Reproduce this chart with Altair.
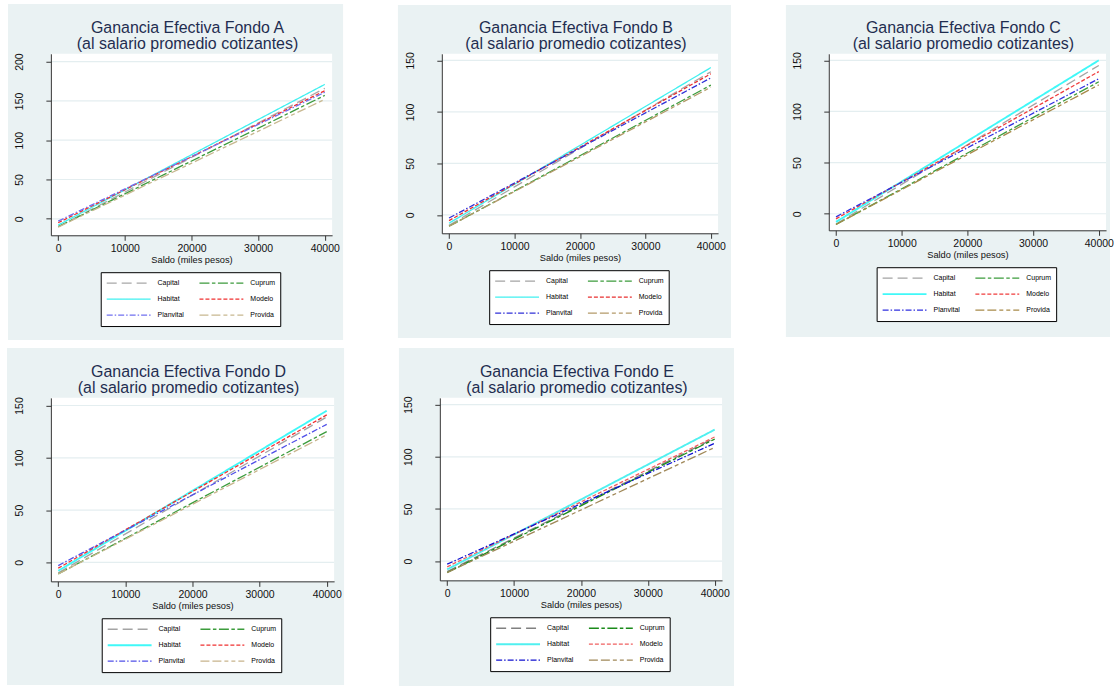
import altair as alt
import pandas as pd

FONT = "Liberation Sans"
BG = "#EAF2F3"
GRID = "#E4EEF0"
TITLE_COLOR = "#1f2d50"

afps = ["Capital", "Cuprum", "Habitat", "Modelo", "Planvital", "Provida"]
# legend fills column by column: this order shows rows Capital/Cuprum, Habitat/Modelo, Planvital/Provida
legend_order = ["Capital", "Habitat", "Planvital", "Cuprum", "Modelo", "Provida"]
saldo = [0, 40000]
fondos = ["A", "B", "C", "D", "E"]
titles = ["Ganancia Efectiva Fondo " + f for f in fondos]
subtitle = "(al salario promedio cotizantes)"
x_title = "Saldo (miles pesos)"

# ganancia at saldo = 0 and at saldo = 40000, per AFP (order of afps)
start_A = [-10, -10, -8, -5, -3, -10.5]
end_A = [166, 157, 171, 163, 161, 152]
start_B = [-10, -11, -8, -5.5, -3, -11]
end_B = [139, 126, 143, 137, 133, 124]
start_C = [-10, -10.5, -8, -5, -3, -10.5]
end_C = [145, 129, 150, 139, 132, 126]
start_D = [-10, -11, -8, -5.5, -3, -11]
end_D = [139, 125, 145, 141, 132, 122]
start_E = [-10, -11, -8, -5.5, -3, -11]
end_E = [118, 117, 126, 119, 113, 109]

y_ticks_A = [0, 50, 100, 150, 200]
y_ticks = [0, 50, 100, 150]
x_ticks = [0, 10000, 20000, 30000, 40000]

# colours per AFP (order of afps)
colors_A = ["#A8A8A8", "#3C9A3C", "#40F0F0", "#F03030", "#7070F0", "#C8B890"]
colors_B = ["#A4A4A4", "#3C9C3C", "#40F0F0", "#E83030", "#3030D8", "#B49A6A"]
colors_C = ["#A4A4A4", "#3C9C3C", "#40F8F8", "#F03C3C", "#3030E0", "#A88A4A"]
colors_D = ["#A4A4A4", "#3C9C3C", "#40F8F8", "#F03030", "#5050E8", "#C8B48C"]
colors_E = ["#808080", "#1A8A1A", "#50F0F0", "#F06060", "#1010D0", "#A08858"]

dashes = [[10, 5], [10, 2.5, 3.5, 2.5], [1, 0], [4, 2], [6, 2, 1.5, 2], [9, 3, 9, 3, 4, 3, 4, 3]]


def reorder(vals):
    m = dict(zip(afps, vals))
    return [m[a] for a in legend_order]


def panel(idx, starts, ends, colors, yticks, ydom, W, H, L, R, T, B, hab_w):
    rows = []
    for a, s, e in zip(afps, starts, ends):
        rows.append({"afp": a, "saldo": saldo[0], "ganancia": s})
        rows.append({"afp": a, "saldo": saldo[1], "ganancia": e})
    df = pd.DataFrame(rows)

    xs = alt.Scale(domain=[-1100, 41100], nice=False, zero=False)
    ys = alt.Scale(domain=ydom, nice=False, zero=False)
    xaxis = alt.Axis(values=x_ticks, format="d", title=x_title, titleFont=FONT,
                     titleFontSize=9.3, titleFontWeight="normal", titleColor="#111",
                     titlePadding=2, labelFont=FONT, labelFontSize=10.5, labelColor="#111",
                     labelPadding=3, tickSize=5, tickColor="#333", domainColor="#333",
                     grid=False, zindex=1, labelFlush=False, labelOverlap=False)
    yaxis = alt.Axis(values=yticks, format="d", title=None, labelAngle=270,
                     labelFont=FONT, labelFontSize=10.5, labelColor="#111",
                     labelPadding=21, tickSize=5, tickColor="#333", domainColor="#333",
                     grid=False, zindex=1, labelFlush=False, labelOverlap=False)
    yenc = alt.Y("ganancia:Q", scale=ys, axis=yaxis)

    leg = alt.Legend(title=None, orient="none", legendX=W / 2 - 91, legendY=H + 37,
                     columns=2, symbolType="stroke", symbolSize=1936,
                     symbolStrokeWidth=1.2, clipHeight=12, rowPadding=4,
                     columnPadding=14, labelOffset=6, labelFont=FONT, labelFontSize=7,
                     labelColor="#000", padding=5, strokeColor="#000", fillColor="white")

    one = alt.Data(values=[{"l1": titles[idx], "l2": subtitle}])
    bg = alt.Chart(one).mark_rect(color=BG).encode(
        x=alt.value(-L), x2=alt.value(W + R), y=alt.value(-T), y2=alt.value(H + B))
    plotbg = alt.Chart(one).mark_rect(color="white").encode(
        x=alt.value(0), x2=alt.value(W), y=alt.value(0), y2=alt.value(H))
    grid = alt.Chart(pd.DataFrame({"ganancia": yticks})).mark_rule(
        color=GRID, strokeWidth=1.2).encode(y=yenc, x=alt.value(0), x2=alt.value(W))
    t1 = alt.Chart(one).mark_text(font=FONT, fontSize=16, color=TITLE_COLOR,
                                  align="center", baseline="alphabetic").encode(
        x=alt.value(W / 2 - 4), y=alt.value(-21), text="l1:N")
    t2 = alt.Chart(one).mark_text(font=FONT, fontSize=16, color=TITLE_COLOR,
                                  align="center", baseline="alphabetic").encode(
        x=alt.value(W / 2 - 4), y=alt.value(-5), text="l2:N")
    widths = [1.3, 1.3, hab_w, 1.3, 1.3, 1.3]
    lines = alt.Chart(df).mark_line().encode(
        x=alt.X("saldo:Q", scale=xs, axis=xaxis),
        y=yenc,
        color=alt.Color("afp:N", scale=alt.Scale(domain=legend_order, range=reorder(colors)), legend=leg),
        strokeDash=alt.StrokeDash("afp:N", scale=alt.Scale(domain=legend_order, range=reorder(dashes)), legend=leg),
        strokeWidth=alt.StrokeWidth("afp:N", scale=alt.Scale(type="ordinal", domain=legend_order, range=reorder(widths)), legend=leg),
        order=alt.Order("ord:Q"),
    ).transform_calculate(ord="indexof(" + str(afps) + ", datum.afp)")
    return alt.layer(bg, plotbg, grid, t1, t2, lines).properties(width=W, height=H)


pA = panel(0, start_A, end_A, colors_A, y_ticks_A, [-21, 210], 282, 182, 43, 11, 50, 105, 1.3)
pB = panel(1, start_B, end_B, colors_B, y_ticks, [-17.8, 156.4], 277, 180, 44, 13, 49, 105, 1.3)
pC = panel(2, start_C, end_C, colors_C, y_ticks, [-16.2, 156.4], 278, 177, 43, 4, 49, 107, 1.9)
pD = panel(3, start_D, end_D, colors_D, y_ticks, [-18.1, 157.3], 284, 184, 44, 10, 50, 104, 1.9)
pE = panel(4, start_E, end_E, colors_E, y_ticks, [-18.5, 156.5], 283, 183, 41, 12, 50, 106, 1.9)

RES = dict(x="independent", y="independent", color="independent",
           strokeDash="independent", strokeWidth="independent")
LRES = dict(color="independent", strokeDash="independent", strokeWidth="independent")

top = alt.hconcat(pA, pB, pC, spacing=55).resolve_scale(**RES).resolve_legend(**LRES)
bottom = alt.hconcat(pD, pE, spacing=55).resolve_scale(**RES).resolve_legend(**LRES)
chart = alt.vconcat(top, bottom, spacing=8).resolve_scale(**RES).resolve_legend(**LRES).properties(
    padding={"left": 7, "top": 3, "right": 0, "bottom": 0},
    background="white",
).configure_view(stroke=None)

chart.save("out.html", embed_options={"renderer": "svg", "actions": False})
